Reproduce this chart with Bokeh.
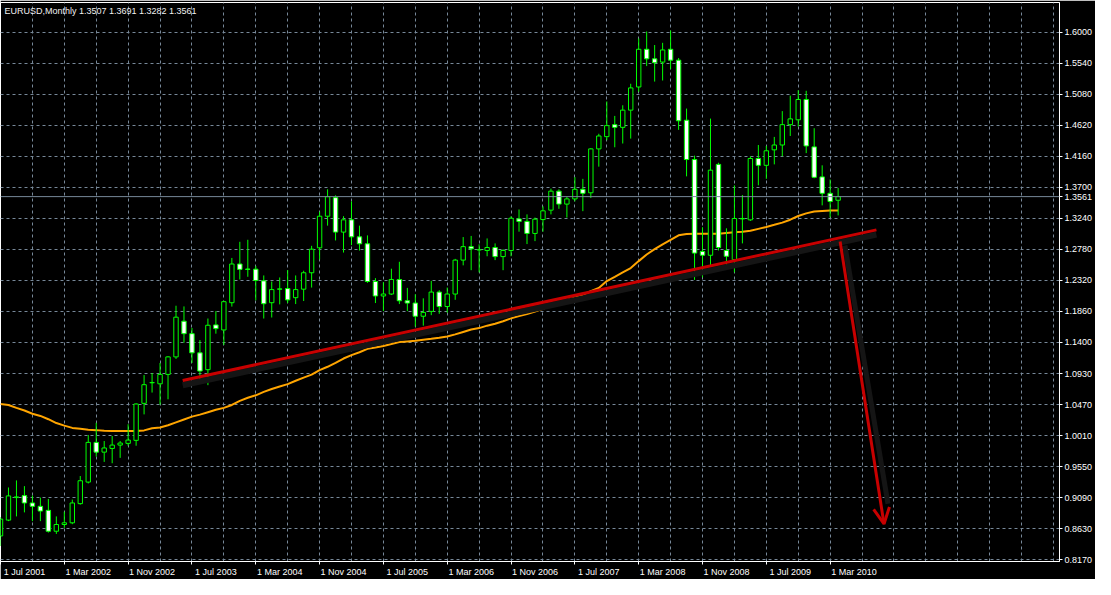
from bokeh.plotting import figure
from bokeh.models import Range1d, FixedTicker, Span, Label, Arrow, OpenHead, ColumnDataSource
from bokeh.embed import file_html
from bokeh.resources import INLINE

symbol = "EURUSD"
timeframe = "Monthly"

# Monthly candles, Jul 2001 .. Apr 2010 (index 0 = Jul 2001)
opens = [0.8520, 0.8755, 0.9090, 0.9119, 0.9010, 0.8960, 0.8900, 0.8590, 0.8690, 0.8715,
         0.9000, 0.9320, 0.9910, 0.9765, 0.9820, 0.9870, 0.9895, 0.9940, 1.0490, 1.0795,
         1.0780, 1.0920, 1.1180, 1.1710, 1.1525, 1.1240, 1.0990, 1.1655, 1.1580, 1.1985,
         1.2560, 1.2485, 1.2483, 1.2310, 1.1985, 1.2185, 1.2195, 1.2060, 1.2186, 1.2430,
         1.2800, 1.3270, 1.3546, 1.3034, 1.3216, 1.2963, 1.2860, 1.2300, 1.2085, 1.2114,
         1.2330, 1.2014, 1.1980, 1.1784, 1.1856, 1.2143, 1.1928, 1.2114, 1.2618, 1.2818,
         1.2770, 1.2761, 1.2805, 1.2670, 1.2761, 1.3230, 1.3193, 1.3014, 1.3220, 1.3360,
         1.3642, 1.3450, 1.3527, 1.3670, 1.3618, 1.4270, 1.4452, 1.4630, 1.4590, 1.4846,
         1.5190, 1.5750, 1.5608, 1.5560, 1.5750, 1.5588, 1.4696, 1.4112, 1.2747, 1.2690,
         1.4040, 1.2761, 1.2626, 1.3230, 1.3216, 1.4127, 1.4026, 1.4256, 1.4328, 1.4630,
         1.4702, 1.5004, 1.4300, 1.3854, 1.3610, 1.3507]
highs = [0.8800, 0.9240, 0.9345, 0.9260, 0.9120, 0.9090, 0.9070, 0.8810, 0.8880, 0.9060,
         0.9410, 1.0020, 1.0200, 0.9930, 1.0005, 0.9930, 1.0180, 1.0490, 1.0910, 1.0940,
         1.1090, 1.1190, 1.1940, 1.1930, 1.1610, 1.1430, 1.1750, 1.1860, 1.2014, 1.2650,
         1.2890, 1.2920, 1.2530, 1.2390, 1.2300, 1.2360, 1.2470, 1.2390, 1.2460, 1.2830,
         1.3336, 1.3670, 1.3580, 1.3270, 1.3490, 1.3130, 1.2985, 1.2350, 1.2290, 1.2490,
         1.2593, 1.2205, 1.2110, 1.2050, 1.2310, 1.2170, 1.2210, 1.2636, 1.2960, 1.2977,
         1.2852, 1.2940, 1.2866, 1.2780, 1.3269, 1.3370, 1.3297, 1.3250, 1.3417, 1.3680,
         1.3670, 1.3560, 1.3850, 1.3825, 1.4280, 1.4495, 1.4975, 1.4760, 1.4918, 1.5238,
         1.5910, 1.6014, 1.5813, 1.5846, 1.6029, 1.5620, 1.4869, 1.4170, 1.3106, 1.4720,
         1.4064, 1.3090, 1.3729, 1.3585, 1.4160, 1.4328, 1.4314, 1.4448, 1.4831, 1.5061,
         1.5142, 1.5133, 1.4577, 1.4026, 1.3815, 1.3691]
lows = [0.8370, 0.8740, 0.8810, 0.8870, 0.8740, 0.8740, 0.8570, 0.8550, 0.8640, 0.8695,
        0.8985, 0.9300, 0.9700, 0.9620, 0.9600, 0.9680, 0.9860, 0.9860, 1.0326, 1.0650,
        1.0470, 1.0550, 1.1150, 1.1390, 1.1090, 1.0790, 1.0760, 1.1525, 1.1357, 1.1927,
        1.2330, 1.2370, 1.2020, 1.1750, 1.1765, 1.1960, 1.1980, 1.1965, 1.2010, 1.2210,
        1.2626, 1.3130, 1.2910, 1.2730, 1.2840, 1.2760, 1.2280, 1.1980, 1.1860, 1.2100,
        1.1965, 1.1860, 1.1630, 1.1644, 1.1800, 1.1820, 1.1836, 1.2028, 1.2540, 1.2468,
        1.2435, 1.2675, 1.2618, 1.2468, 1.2675, 1.3040, 1.2856, 1.2900, 1.3040, 1.3297,
        1.3380, 1.3250, 1.3490, 1.3345, 1.3540, 1.4006, 1.4400, 1.4294, 1.4350, 1.4423,
        1.5119, 1.5500, 1.5270, 1.5286, 1.5454, 1.4553, 1.3862, 1.2324, 1.2363, 1.2531,
        1.2761, 1.2492, 1.2435, 1.2866, 1.3200, 1.3729, 1.3825, 1.4040, 1.4160, 1.4462,
        1.4601, 1.4207, 1.3834, 1.3431, 1.3250, 1.3282]
closes = [0.8770, 0.9115, 0.9100, 0.9010, 0.8960, 0.8890, 0.8590, 0.8690, 0.8715, 0.9010,
          0.9340, 0.9910, 0.9765, 0.9827, 0.9870, 0.9900, 0.9944, 1.0480, 1.0767, 1.0800,
          1.0920, 1.1180, 1.1770, 1.1525, 1.1240, 1.0970, 1.1650, 1.1600, 1.2000, 1.2560,
          1.2480, 1.2480, 1.2315, 1.1970, 1.2180, 1.2190, 1.2027, 1.2180, 1.2430, 1.2780,
          1.3270, 1.3560, 1.3034, 1.3216, 1.2963, 1.2860, 1.2300, 1.2085, 1.2114, 1.2330,
          1.2014, 1.1980, 1.1784, 1.1841, 1.2143, 1.1928, 1.2114, 1.2618, 1.2818, 1.2785,
          1.2772, 1.2805, 1.2670, 1.2761, 1.3240, 1.3193, 1.3014, 1.3226, 1.3350, 1.3642,
          1.3450, 1.3527, 1.3670, 1.3610, 1.4270, 1.4462, 1.4616, 1.4590, 1.4846, 1.5176,
          1.5750, 1.5608, 1.5550, 1.5740, 1.5588, 1.4688, 1.4112, 1.2722, 1.2690, 1.3954,
          1.2805, 1.2675, 1.3236, 1.3236, 1.4127, 1.4026, 1.4242, 1.4328, 1.4630, 1.4716,
          1.5004, 1.4314, 1.3848, 1.3610, 1.3489, 1.3561]

# Moving average (orange), one value per bar
ma_values = [1.0480, 1.0466, 1.0423, 1.0384, 1.0336, 1.0303, 1.0254, 1.0197, 1.0159, 1.0125,
             1.0111, 1.0096, 1.0092, 1.0082, 1.0078, 1.0078, 1.0078, 1.0078, 1.0088, 1.0121,
             1.0131, 1.0164, 1.0207, 1.0250, 1.0293, 1.0322, 1.0358, 1.0394, 1.0423, 1.0466,
             1.0527, 1.0573, 1.0609, 1.0660, 1.0703, 1.0739, 1.0775, 1.0825, 1.0872, 1.0916,
             1.0983, 1.1033, 1.1091, 1.1156, 1.1206, 1.1249, 1.1299, 1.1321, 1.1343, 1.1371,
             1.1400, 1.1410, 1.1419, 1.1436, 1.1450, 1.1465, 1.1483, 1.1515, 1.1551, 1.1587,
             1.1608, 1.1644, 1.1673, 1.1709, 1.1752, 1.1788, 1.1817, 1.1853, 1.1896, 1.1942,
             1.1982, 1.2018, 1.2061, 1.2104, 1.2155, 1.2205, 1.2306, 1.2370, 1.2435, 1.2500,
             1.2603, 1.2701, 1.2780, 1.2852, 1.2917, 1.2986, 1.3006, 1.3010, 1.3010, 1.3010,
             1.3010, 1.3021, 1.3032, 1.3039, 1.3053, 1.3082, 1.3111, 1.3142, 1.3175, 1.3218,
             1.3273, 1.3312, 1.3341, 1.3348, 1.3355, 1.3355]

x_tick_labels = ["1 Jul 2001", "1 Mar 2002", "1 Nov 2002", "1 Jul 2003", "1 Mar 2004",
                 "1 Nov 2004", "1 Jul 2005", "1 Mar 2006", "1 Nov 2006", "1 Jul 2007",
                 "1 Mar 2008", "1 Nov 2008", "1 Jul 2009", "1 Mar 2010"]
price_ticks = [1.6000, 1.5540, 1.5080, 1.4620, 1.4160, 1.3700, 1.3240, 1.2780, 1.2320,
               1.1860, 1.1400, 1.0930, 1.0470, 1.0010, 0.9550, 0.9090, 0.8630, 0.8170]

# hand-drawn objects (bar index, price)
trend_x = [22.84, 109.8]
trend_y = [1.0829, 1.3067]
arrow_start = (105.25, 1.2895)
arrow_end = (110.75, 0.8698)

BAR_STEP = 8          # months between date labels
GRID_STEP = 4         # months between vertical grid lines
LABEL_SHIFT = 3.0     # date labels start at their tick
X_END = 132.75
Y_START, Y_END = 0.81403, 1.64449

n = len(opens)
idx = list(range(n))
body_top = [max(o, c) for o, c in zip(opens, closes)]
body_bot = [min(o, c) for o, c in zip(opens, closes)]
fills = ["black" if c >= o else "white" for o, c in zip(opens, closes)]
src = ColumnDataSource(dict(x=idx, top=body_top, bottom=body_bot, high=highs, low=lows, fill=fills))

LIME = "#00FF00"
GRID = "#778899"
RED = "#C80000"
SHADOW = "#151515"
FONT = "Liberation Sans"

p = figure(width=1095, height=579,
           x_range=Range1d(0, X_END), y_range=Range1d(Y_START, Y_END),
           y_axis_location="right", output_backend="svg", toolbar_location=None,
           min_border_left=0, min_border_top=2, min_border_right=33, min_border_bottom=17,
           background_fill_color="black", border_fill_color="black",
           outline_line_color="white", outline_line_width=1)

# axes (the current price is shown as an extra label on the price axis)
price_tag = f"{closes[-1]:.4f}"
label_pos = [BAR_STEP * k + LABEL_SHIFT for k in range(len(x_tick_labels))]
p.xaxis.ticker = FixedTicker(ticks=label_pos, minor_ticks=[BAR_STEP * k for k in range(len(x_tick_labels))])
p.xaxis.major_label_overrides = {pos: lab for pos, lab in zip(label_pos, x_tick_labels)}
p.xaxis.major_tick_line_color = None
p.xaxis.minor_tick_line_color = "white"
p.xaxis.minor_tick_in = 0
p.xaxis.minor_tick_out = 3
p.yaxis.ticker = FixedTicker(ticks=price_ticks + [closes[-1]])
p.yaxis.major_label_overrides = {**{t: f"{t:.4f}" for t in price_ticks}, closes[-1]: price_tag}
p.yaxis.major_tick_line_color = "white"
p.yaxis.minor_tick_line_color = None
for ax in (p.xaxis, p.yaxis):
    ax.axis_line_color = "white"
    ax.major_tick_in = 0
    ax.major_tick_out = 3
    ax.major_label_text_color = "white"
    ax.major_label_text_font = FONT
    ax.major_label_text_font_size = "9px"
    ax.major_label_standoff = 2

# grid
p.xgrid.ticker = FixedTicker(ticks=list(range(0, int(X_END) + 1, GRID_STEP)))
p.ygrid.ticker = FixedTicker(ticks=price_ticks)
for g in (p.xgrid, p.ygrid):
    g.grid_line_color = GRID
    g.grid_line_dash = "3 3"
    g.grid_line_width = 1

# moving average
p.line(idx, ma_values, line_color="#FFA500", line_width=2)

# candles
p.segment(x0="x", x1="x", y0="low", y1="high", source=src, line_color=LIME, line_width=1)
p.vbar(x="x", width=0.55, top="top", bottom="bottom", source=src,
       fill_color="fill", line_color=LIME, line_width=1)

# current price line
p.add_layout(Span(location=closes[-1], dimension="width", line_color=GRID, line_width=1))

# trend line with soft shadow
p.line(trend_x, [y - 0.007 for y in trend_y], line_color=SHADOW, line_width=6)
p.line(trend_x, trend_y, line_color=RED, line_width=3)

# forecast arrow with soft shadow
p.line([arrow_start[0] + 0.6, arrow_end[0] + 0.5], [arrow_start[1] - 0.006, arrow_end[1] + 0.03],
       line_color=SHADOW, line_width=5)
p.add_layout(Arrow(x_start=arrow_start[0], y_start=arrow_start[1],
                   x_end=arrow_end[0], y_end=arrow_end[1],
                   line_color=RED, line_width=3,
                   end=OpenHead(size=16, line_color=RED, line_width=3)))

# header text
p.add_layout(Label(x=0, y=Y_END, x_offset=4, y_offset=-3, text_baseline="top",
                   text=f"{symbol},{timeframe}  {opens[-1]:.4f} {highs[-1]:.4f} {lows[-1]:.4f} {closes[-1]:.4f}",
                   text_color="#F0F0F0", text_font=FONT, text_font_size="9px"))

open("out.html", "w").write(file_html(p, INLINE))
